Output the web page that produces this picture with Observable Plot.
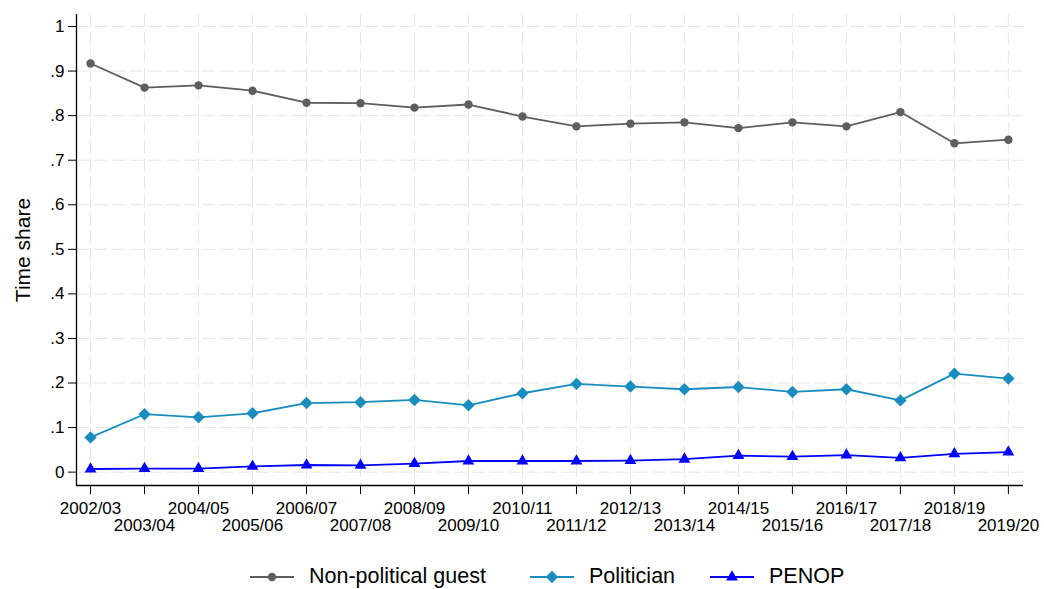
<!DOCTYPE html>
<html>
<head>
<meta charset="utf-8">
<script src="https://cdn.jsdelivr.net/npm/d3@7"></script>
<script src="https://cdn.jsdelivr.net/npm/@observablehq/plot@0.6"></script>
<style>
  html, body { margin: 0; padding: 0; background: #fff; }
  body { width: 1044px; height: 589px; overflow: hidden; font-family: "Liberation Sans", Arial, sans-serif; }
  #legend { position: relative; height: 39px; }
  .item { position: absolute; top: 7px; display: flex; align-items: center; height: 39px; font-size: 21.5px; color: #000; }
  .item svg { margin-right: 15px; }
</style>
</head>
<body>
<div id="chart"></div>
<div id="legend"></div>
<script>
const seasons = ["2002/03","2003/04","2004/05","2005/06","2006/07","2007/08","2008/09","2009/10","2010/11","2011/12","2012/13","2013/14","2014/15","2015/16","2016/17","2017/18","2018/19","2019/20"];
const nonPolitical = [0.917,0.863,0.868,0.856,0.829,0.828,0.818,0.825,0.798,0.776,0.782,0.785,0.772,0.785,0.776,0.808,0.738,0.746];
const politician   = [0.078,0.130,0.123,0.132,0.155,0.157,0.162,0.150,0.177,0.198,0.192,0.186,0.191,0.180,0.186,0.161,0.221,0.210];
const penop        = [0.007,0.008,0.008,0.013,0.016,0.015,0.019,0.025,0.025,0.025,0.026,0.029,0.037,0.035,0.038,0.032,0.041,0.045];
const yTicks = [0,0.1,0.2,0.3,0.4,0.5,0.6,0.7,0.8,0.9,1];
const seriesNames = ["Non-political guest","Politician","PENOP"];
const seriesColors = ["#5e5e5e","#1a8dbe","#0000ff"];
const seriesSymbols = ["circle","diamond2","triangle"];
const seriesR = [4.2, 5.6, 4.4];

const idx = seasons.map((_, i) => i);
const odds = idx.filter(i => i % 2 === 1);
const allSeries = [nonPolitical, politician, penop];
const yFmt = d => d === 0 ? "0" : d === 1 ? "1" : d.toFixed(1).replace(/^0/, "");

const marks = [
  Plot.gridY(yTicks, {stroke: "#e6e6e6", strokeOpacity: 1, strokeWidth: 1, strokeDasharray: "13,5"}),
  Plot.gridX(idx, {stroke: "#e6e6e6", strokeOpacity: 1, strokeWidth: 1, strokeDasharray: "13,5"}),
  Plot.axisY(yTicks, {tickFormat: yFmt, tickSize: 8, tickPadding: 4, fontSize: 17, label: null}),
  Plot.axisX(idx, {tickSize: 9, tickFormat: i => i % 2 === 0 ? seasons[i] : "", tickPadding: 7, fontSize: 17, label: null}),
  Plot.axisX(odds, {tickSize: 0, tickFormat: i => seasons[i], tickPadding: 33, fontSize: 17, label: null}),
  Plot.ruleY([-0.03], {stroke: "#000", strokeWidth: 1.3}),
  Plot.ruleX([-0.26], {stroke: "#000", strokeWidth: 1.3}),
  Plot.text(["Time share"], {frameAnchor: "left", dx: -53, rotate: -90, textAnchor: "middle", fontSize: 21, fill: "#000"})
];
allSeries.forEach((vals, s) => {
  const data = vals.map((v, i) => ({i, v}));
  marks.push(Plot.line(data, {x: "i", y: "v", stroke: seriesColors[s], strokeWidth: 1.8}));
  marks.push(Plot.dot(data, {x: "i", y: "v", fill: seriesColors[s], stroke: "none",
    symbol: seriesSymbols[s], r: seriesR[s]}));
});

const chart = Plot.plot({
  width: 1044,
  height: 550,
  marginTop: 14,
  marginBottom: 65,
  marginLeft: 76,
  marginRight: 21,
  style: {fontFamily: "'Liberation Sans', Arial, sans-serif", color: "#000", background: "#fff"},
  x: {type: "linear", domain: [-0.26, 17.28]},
  y: {domain: [-0.03, 1.027]},
  marks
});
document.getElementById("chart").appendChild(chart);

// legend
const legend = document.getElementById("legend");
const lefts = [250, 530, 710];
const d3Symbols = [d3.symbolCircle, d3.symbolDiamond2, d3.symbolTriangle];
seriesNames.forEach((name, s) => {
  const div = document.createElement("div");
  div.className = "item";
  div.style.left = lefts[s] + "px";
  const sym = d3.symbol().type(d3Symbols[s]).size(Math.PI * seriesR[s] * seriesR[s])();
  div.innerHTML = `<svg width="44" height="20" viewBox="0 0 44 20"><line x1="0" x2="44" y1="10" y2="10" stroke="${seriesColors[s]}" stroke-width="1.8"/><path d="${sym}" transform="translate(22,10)" fill="${seriesColors[s]}"/></svg><span>${name}</span>`;
  legend.appendChild(div);
});
</script>
</body>
</html>
